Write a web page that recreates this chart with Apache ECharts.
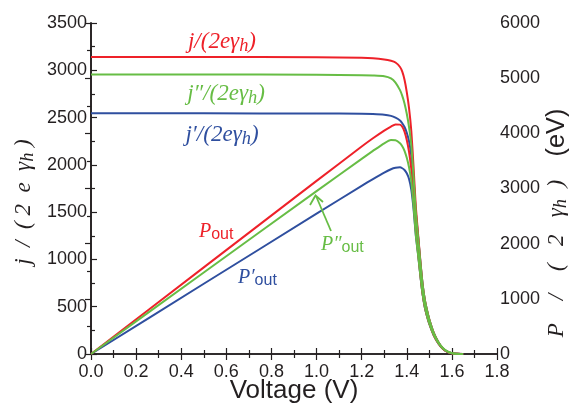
<!DOCTYPE html>
<html><head><meta charset="utf-8">
<script src="https://cdn.jsdelivr.net/npm/echarts@6/dist/echarts.min.js"></script>
<style>html,body{margin:0;padding:0;background:#fff}#c{width:574px;height:407px}</style>
</head><body><div id="c"></div>
<script>
const voltage = [0, 0.5, 1.0, 1.2, 1.25, 1.30, 1.33, 1.35, 1.37, 1.38, 1.39, 1.40, 1.41, 1.42, 1.43, 1.44, 1.45, 1.46, 1.47, 1.48, 1.49, 1.50, 1.52, 1.54, 1.56, 1.58, 1.60, 1.62, 1.65];
const jRed   = [3140,3140,3138,3133,3128,3115,3100,3082,3035,2985,2900,2770,2600,2360,1980,1560,1270,990,740,575,460,365,220,125,60,24,7,2,0];
const jGreen = [2955,2955,2953,2948,2945,2938,2915,2870,2790,2730,2650,2540,2400,2210,1880,1500,1240,980,740,575,460,365,222,128,64,27,9,2,0];
const jBlue  = [2545,2545,2543,2540,2537,2530,2518,2500,2470,2440,2400,2340,2250,2100,1840,1500,1250,980,740,570,458,363,220,125,60,24,7,2,0];
const pRed   = [0,1570,3138,3760,3910,4050,4123,4161,4158,4119,4031,3878,3666,3351,2831,2246,1842,1445,1088,851,685,548,334,193,94,38,11,3,0];
const pGreen = [0,1478,2953,3538,3681,3819,3877,3875,3822,3767,3684,3556,3384,3138,2688,2160,1798,1431,1088,851,685,548,337,197,100,43,14,3,0];
const pBlue  = [0,1273,2543,3048,3171,3289,3349,3375,3384,3367,3336,3276,3173,2982,2631,2160,1813,1431,1088,844,682,545,334,193,94,38,11,3,0];
const xTicks = ['0.0','0.2','0.4','0.6','0.8','1.0','1.2','1.4','1.6','1.8'];

const RED = '#ee2129', GREEN = '#67bd45', BLUE = '#2f4f9f', INK = '#231f20';
const pair = arr => voltage.map((v, i) => [v, arr[i]]);
const SERIF = 'Liberation Serif', SANS = 'Liberation Sans';

const axisCommon = {
  axisLine: {show: true, lineStyle: {color: INK, width: 1.6}},
  axisTick: {show: true, inside: true, length: 6, lineStyle: {color: INK, width: 1.2}},
  minorTick: {show: true, splitNumber: 2, length: 4, lineStyle: {color: INK, width: 1.2}},
  splitLine: {show: false},
  axisLabel: {color: INK, fontFamily: SANS, fontSize: 18, formatter: v => String(v)}
};

function line(name, data, color, yIdx) {
  return {name, type: 'line', data: pair(data), yAxisIndex: yIdx, xAxisIndex: 0,
    showSymbol: false, smooth: 0.2, lineStyle: {color, width: 2}, itemStyle: {color}};
}

function rich(col, size) {
  return {
    i: {fontFamily: SERIF, fontStyle: 'italic', fontSize: size, fill: col, lineHeight: size + 4},
    s: {fontFamily: SERIF, fontStyle: 'italic', fontSize: size * 0.8, fill: col, lineHeight: size + 4, padding: [size * 0.4, 0, 0, 0]},
    o: {fontFamily: SANS, fontSize: size * 0.8, fill: col, lineHeight: size + 4, padding: [size * 0.3, 0, 0, 0]},
    n: {fontFamily: SANS, fontSize: size * 1.1, fill: col, lineHeight: size + 4},
    t: {fontFamily: SANS, fontSize: size, fill: col, lineHeight: size + 4}
  };
}
function label(x, y, text, col, size, align, rot) {
  return {type: 'text', x, y, rotation: rot || 0, z: 100,
    style: {text, rich: rich(col, size), align: align || 'center', verticalAlign: 'middle', fill: col}};
}

const chart = echarts.init(document.getElementById('c'), null, {renderer: 'canvas'});
chart.setOption({
  animation: false,
  backgroundColor: '#fff',
  grid: {left: 91, right: 77, top: 23, bottom: 53, containLabel: false, outerBoundsMode: 'none'},
  xAxis: [
    Object.assign({}, axisCommon, {type: 'value', min: 0, max: 1.8, interval: 0.2, position: 'bottom',
      axisLabel: Object.assign({}, axisCommon.axisLabel, {margin: 9, formatter: v => xTicks[Math.round(v / 0.2)]})}),
    Object.assign({}, axisCommon, {type: 'value', min: 0, max: 1.8, interval: 0.2, position: 'top',
      axisLabel: {show: false}})
  ],
  yAxis: [
    Object.assign({}, axisCommon, {type: 'value', min: 0, max: 3500, interval: 500, position: 'left',
      axisLabel: Object.assign({}, axisCommon.axisLabel, {margin: 4})}),
    Object.assign({}, axisCommon, {type: 'value', min: 0, max: 6000, interval: 1000, position: 'right',
      axisLabel: Object.assign({}, axisCommon.axisLabel, {margin: 3})})
  ],
  series: [
    line('jBlue', jBlue, BLUE, 0),
    line('pBlue', pBlue, BLUE, 1),
    line('jRed', jRed, RED, 0),
    line('pRed', pRed, RED, 1),
    line('jGreen', jGreen, GREEN, 0),
    line('pGreen', pGreen, GREEN, 1)
  ],
  graphic: [
    label(294, 391, '{t|Voltage (V)}', INK, 26),
    label(24, 202, '{i|j  /  ( 2  e  γ}{s|h}{i| )}', INK, 23, 'center', Math.PI / 2),
    label(557, 223, '{i|P    /    (   2   γ}{s|h}{i|  )}       {n|(eV)}', INK, 23, 'center', Math.PI / 2),
    label(222, 42, '{i|j/(2eγ}{s|h}{i|)}', RED, 23),
    label(226, 94, '{i|j″/(2eγ}{s|h}{i|)}', GREEN, 23),
    label(222, 135, '{i|j′/(2eγ}{s|h}{i|)}', BLUE, 23),
    label(199, 232, '{i|P}{o|out}', RED, 20, 'left'),
    label(238, 278, '{i|P′}{o|out}', BLUE, 20, 'left'),
    label(321, 245, '{i|P″}{o|out}', GREEN, 20, 'left'),
    {type: 'line', z: 100, shape: {x1: 331, y1: 231, x2: 316, y2: 196}, style: {stroke: GREEN, lineWidth: 1.8}},
    {type: 'polyline', z: 100, shape: {points: [[310, 205], [315.5, 195.5], [323, 202]]}, style: {stroke: GREEN, lineWidth: 1.8, fill: null}}
  ]
});
</script>
</body></html>
